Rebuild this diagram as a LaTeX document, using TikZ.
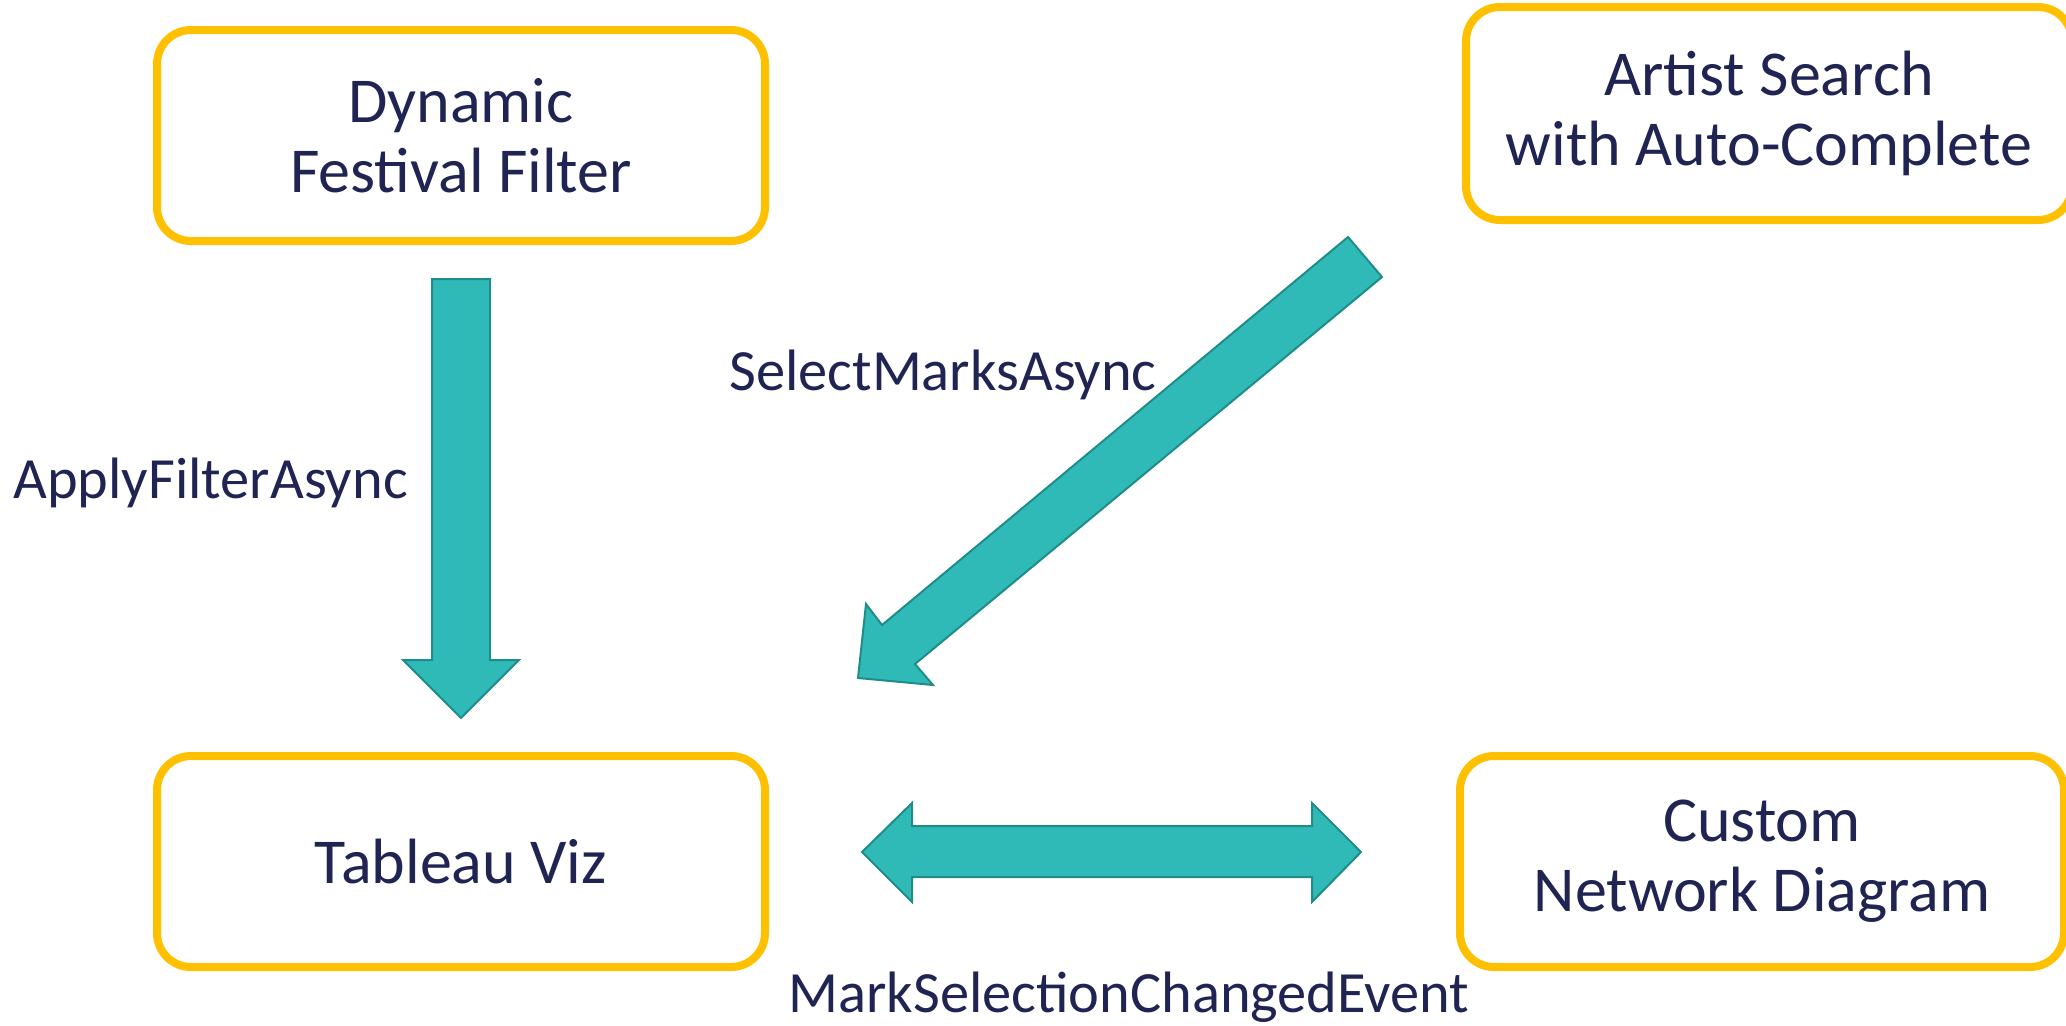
\documentclass[tikz,border=0pt]{standalone}
\usepackage{fontspec}
\setmainfont{Carlito}
\definecolor{navy}{RGB}{31,36,82}
\definecolor{boxgold}{RGB}{255,192,0}
\definecolor{tealfill}{RGB}{47,186,184}
\definecolor{tealedge}{RGB}{32,140,136}
\begin{document}
\begin{tikzpicture}[x=0.5pt,y=-0.5pt,
  appbox/.style={draw=boxgold,line width=4pt,rounded corners=17pt,fill=white,
    text=navy,align=center,inner sep=0pt,
    font=\fontsize{32}{35}\selectfont},
  blockarrow/.style={fill=tealfill,draw=tealedge,line width=1pt,line join=miter},
  lbl/.style={text=navy,inner sep=0pt,font=\fontsize{29.2}{34}\selectfont}]
\useasboundingbox (0,0) rectangle (2066,1025);
% boxes
\node[appbox,minimum width=304pt,minimum height=105.5pt] (dff) at (461,135.5) {Dynamic\\Festival Filter};
\node[appbox,minimum width=303pt,minimum height=106.5pt] (art) at (1769,113.5) {Artist Search\\with Auto-Complete};
\node[appbox,minimum width=304pt,minimum height=105.5pt] (tab) at (461,861.5) {Tableau Viz};
\node[appbox,minimum width=302pt,minimum height=105.5pt] (net) at (1762,861.5) {Custom\\Network Diagram};
% down arrow
\coordinate (d1) at (432,279);
\draw[blockarrow] (d1) -- (490,279) -- (490,660) -- (519,660) -- (461,718) -- (403,660) -- (432,660) -- cycle;
% diagonal arrow
\coordinate (g1) at (1348,237);
\draw[blockarrow] (g1) -- (1382,277) -- (915,664) -- (933,685) -- (858,678) -- (866,604) -- (882,625) -- cycle;
% double arrow
\coordinate (h1) at (862,852);
\draw[blockarrow] (h1) -- (912,803) -- (912,826) -- (1312,826) -- (1312,803) -- (1361,852) -- (1312,902) -- (1312,877) -- (912,877) -- (912,902) -- cycle;
% labels
\node[lbl,anchor=base west] (l1) at (13,498) {ApplyFilterAsync};
\node[lbl,anchor=base west] (l2) at (729,390) {SelectMarksAsync};
\node[lbl,anchor=base west] (l3) at (788,1012) {MarkSelectionChangedEvent};
\end{tikzpicture}
\end{document}
